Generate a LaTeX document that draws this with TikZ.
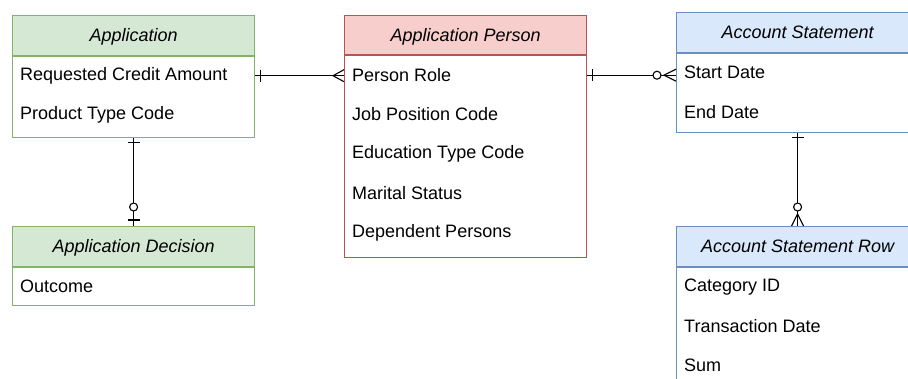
\documentclass[tikz,border=0pt]{standalone}
\usepackage{fontspec}
\setmainfont{Liberation Sans}
\usetikzlibrary{positioning,calc}
\definecolor{ergreen}{HTML}{D5E8D4}
\definecolor{ergreenline}{HTML}{82B366}
\definecolor{erred}{HTML}{F8CECC}
\definecolor{erredline}{HTML}{B85450}
\definecolor{erblue}{HTML}{DAE8FC}
\definecolor{erblueline}{HTML}{6C8EBF}
\newcommand{\erfont}{\fontsize{18pt}{22pt}\selectfont}
\tikzset{
  ehead/.style={line width=1.2pt, minimum width=242pt, minimum height=39.5pt, inner sep=0pt, text height=13pt, text depth=0pt, anchor=north west, font=\erfont\itshape},
  ebody/.style={line width=1.2pt, fill=white, minimum width=242pt, inner sep=0pt},
  ghead/.style={ehead, draw=ergreenline, fill=ergreen},
  gbody/.style={ebody, draw=ergreenline},
  rhead/.style={ehead, draw=erredline, fill=erred},
  rbody/.style={ebody, draw=erredline},
  bhead/.style={ehead, draw=erblueline, fill=erblue},
  bbody/.style={ebody, draw=erblueline},
  field/.style={anchor=west, inner sep=0pt},
  rel/.style={draw=black, line width=1.1pt},
  one/.pic={\draw[rel] (5,-6) -- (5,6);},
  many/.pic={\draw[rel] (0,-6) -- (11,0) -- (0,6);},
  zeroone/.pic={\draw[rel] (6,-6) -- (6,6); \draw[rel, fill=white] (19,0) circle[radius=4pt];},
  zeromany/.pic={\draw[rel] (0,-6) -- (12,0) -- (0,6); \draw[rel, fill=white] (19,0) circle[radius=4pt];}
}

\begin{document}
\begin{tikzpicture}[x=1pt, y=-1pt, font=\erfont]
  \useasboundingbox (0,0) rectangle (908,378);
  \clip (0,0) rectangle (908,378);
  % entities
  \node[ghead] (app) at (12,15) {Application};
  \node[gbody, below=0pt of app, minimum height=81pt] (app-b) {};
  \foreach \txt [count=\i] in {Requested Credit Amount, Product Type Code}
    \node[field] (app-\i) at ([xshift=8pt, yshift={-20pt-(\i-1)*39.3pt}]app.south west) {\txt};

  \node[ghead] (dec) at (12,226) {Application Decision};
  \node[gbody, below=0pt of dec, minimum height=38pt] (dec-b) {};
  \node[field] (dec-1) at ([xshift=8pt, yshift=-20pt]dec.south west) {Outcome};

  \node[rhead] (per) at (344,14.5) {Application Person};
  \node[rbody, below=0pt of per, minimum height=202pt] (per-b) {};
  \foreach \txt [count=\i] in {Person Role, Job Position Code, Education Type Code, Marital Status, Dependent Persons}
    \node[field] (per-\i) at ([xshift=8pt, yshift={-20pt-(\i-1)*39.3pt}]per.south west) {\txt};

  \node[bhead] (stm) at (676,12) {Account Statement};
  \node[bbody, below=0pt of stm, minimum height=79pt] (stm-b) {};
  \foreach \txt [count=\i] in {Start Date, End Date}
    \node[field] (stm-\i) at ([xshift=8pt, yshift={-20pt-(\i-1)*39.3pt}]stm.south west) {\txt};

  \node[bhead] (srw) at (676,226) {Account Statement Row};
  \node[bbody, below=0pt of srw, minimum height=122pt] (srw-b) {};
  \foreach \txt [count=\i] in {Category ID, Transaction Date, Sum}
    \node[field] (srw-\i) at ([xshift=8pt, yshift={-20pt-(\i-1)*39.3pt}]srw.south west) {\txt};

  % relationships
  \draw[rel] (app-1 -| app-b.east) coordinate (ap-r) -- (app-1 -| per-b.west) coordinate (pa-l);
  \pic at (ap-r) {one};
  \pic[rotate=180] at (pa-l) {many};

  \draw[rel] (per-1 -| per-b.east) coordinate (pe-r) -- (per-1 -| stm-b.west) coordinate (st-l);
  \pic at (pe-r) {one};
  \pic[rotate=180] at (st-l) {zeromany};

  \draw[rel] (app-b.south) -- (dec.north);
  \pic[rotate=-90] at (app-b.south) {one};
  \pic[rotate=90] at (dec.north) {zeroone};

  \draw[rel] (stm-b.south) -- (srw.north);
  \pic[rotate=-90] at (stm-b.south) {one};
  \pic[rotate=90] at (srw.north) {zeromany};
\end{tikzpicture}
\end{document}
